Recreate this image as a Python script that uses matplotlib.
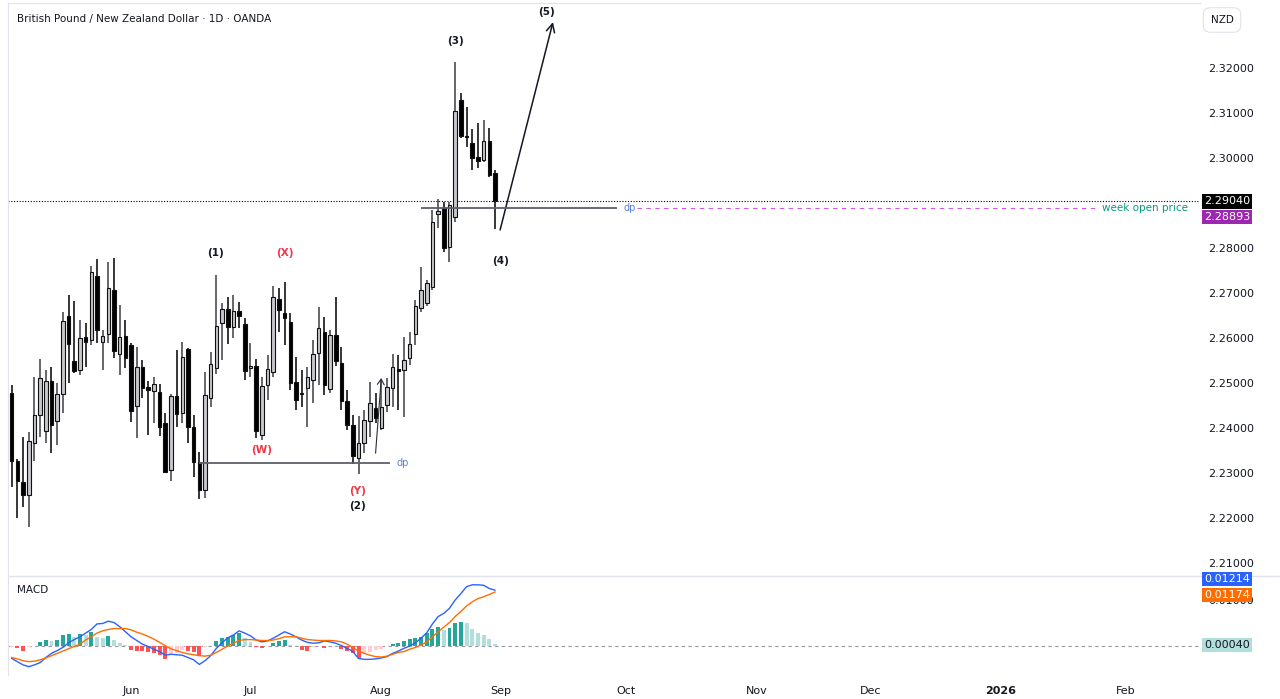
import matplotlib
matplotlib.use("Agg")
import matplotlib.pyplot as plt
from matplotlib.lines import Line2D
import numpy as np
import pandas as pd

# GBPNZD daily candles (OANDA), 2 May - 29 Aug 2025
opens = [2.24784, 2.23273, 2.22807, 2.22511, 2.23673, 2.24289, 2.23933, 2.25044, 2.24162, 2.24756,
         2.26489, 2.25496, 2.25289, 2.26016, 2.25956, 2.27378, 2.25918, 2.26089, 2.27067, 2.25644,
         2.26044, 2.25844, 2.24489, 2.25362, 2.24904, 2.24829, 2.24807, 2.24104, 2.23067, 2.24711,
         2.24327, 2.25749, 2.24016, 2.23251, 2.22622, 2.24660, 2.25327, 2.26340, 2.26638, 2.26238,
         2.26607, 2.26304, 2.25327, 2.25378, 2.23844, 2.24956, 2.25251, 2.26860, 2.26562, 2.26362,
         2.25029, 2.24784, 2.24882, 2.25067, 2.25673, 2.26127, 2.24860, 2.26060, 2.25451, 2.24607,
         2.24067, 2.23327, 2.23673, 2.24162, 2.24451, 2.23993, 2.24511, 2.24882, 2.25304, 2.25289,
         2.25549, 2.26089, 2.26667, 2.26778, 2.27133, 2.28756, 2.28882, 2.28029, 2.28696, 2.31289,
         2.30489, 2.30327, 2.30016, 2.29956, 2.30384, 2.29673]
highs = [2.24956, 2.23300, 2.23807, 2.23918, 2.25140, 2.25527, 2.25289, 2.25349, 2.24993, 2.26584,
         2.26956, 2.26829, 2.26400, 2.26340, 2.27607, 2.27749, 2.26178, 2.27696, 2.27778, 2.26733,
         2.26400, 2.25882, 2.25807, 2.25511, 2.25051, 2.25127, 2.24978, 2.24327, 2.24756, 2.25733,
         2.25918, 2.25771, 2.24289, 2.23473, 2.25251, 2.25696, 2.27400, 2.26771, 2.26918, 2.26956,
         2.26807, 2.26438, 2.25896, 2.25527, 2.25127, 2.25622, 2.27156, 2.27104, 2.27251, 2.26549,
         2.25584, 2.25289, 2.25362, 2.25956, 2.26696, 2.26473, 2.26178, 2.26918, 2.25793, 2.24844,
         2.24289, 2.24260, 2.24400, 2.25029, 2.24771, 2.25067, 2.25104, 2.25644, 2.25622, 2.26029,
         2.26140, 2.26844, 2.27584, 2.27289, 2.28844, 2.29082, 2.29029, 2.29029, 2.32140, 2.31438,
         2.31127, 2.30638, 2.30771, 2.30844, 2.30660, 2.29733]
lows = [2.22696, 2.21993, 2.22251, 2.21807, 2.23273, 2.23807, 2.23660, 2.23451, 2.23622, 2.24327,
        2.24993, 2.25216, 2.25178, 2.25362, 2.25844, 2.25896, 2.25289, 2.25882, 2.25549, 2.25178,
        2.25327, 2.24140, 2.23771, 2.24660, 2.23844, 2.24104, 2.23822, 2.22993, 2.22829, 2.24029,
        2.24104, 2.23673, 2.22918, 2.22416, 2.22438, 2.24473, 2.25200, 2.25511, 2.25867, 2.25993,
        2.26216, 2.25067, 2.25140, 2.23771, 2.23740, 2.24622, 2.25140, 2.26140, 2.25844, 2.24844,
        2.24400, 2.24473, 2.24029, 2.24549, 2.24956, 2.24733, 2.24771, 2.25378, 2.24400, 2.23956,
        2.23200, 2.22978, 2.23438, 2.23807, 2.24104, 2.23956, 2.24362, 2.24473, 2.24400, 2.24251,
        2.25400, 2.25844, 2.26578, 2.26711, 2.27067, 2.28438, 2.27918, 2.27696, 2.28584, 2.30438,
        2.30238, 2.29733, 2.29771, 2.29918, 2.29584, 2.28416]
closes = [2.23273, 2.22829, 2.22511, 2.23718, 2.24289, 2.25118, 2.25044, 2.24067, 2.24756, 2.26384,
          2.25867, 2.25267, 2.26007, 2.25918, 2.27473, 2.26178, 2.26044, 2.27104, 2.25718, 2.26029,
          2.25549, 2.24384, 2.25349, 2.24896, 2.24844, 2.24978, 2.24029, 2.23029, 2.24711, 2.24311,
          2.25584, 2.24016, 2.23251, 2.22622, 2.24733, 2.25416, 2.26267, 2.26638, 2.26251, 2.26607,
          2.26489, 2.25273, 2.25384, 2.23940, 2.24933, 2.25304, 2.26904, 2.26622, 2.26438, 2.25007,
          2.24622, 2.24756, 2.25127, 2.25644, 2.26216, 2.24956, 2.26067, 2.25496, 2.24607, 2.24067,
          2.23378, 2.23660, 2.24178, 2.24562, 2.24229, 2.24460, 2.24904, 2.25349, 2.25273, 2.25511,
          2.25867, 2.26711, 2.27067, 2.27222, 2.28584, 2.28829, 2.27993, 2.28956, 2.31044, 2.30489,
          2.30467, 2.29993, 2.29940, 2.30384, 2.29622, 2.29040]

# MACD (12, 26, 9)
macd = [-0.0027, -0.0034, -0.0041, -0.0045, -0.0041, -0.0036, -0.0025, -0.0016, -0.0010, -0.0003,
        0.0007, 0.0014, 0.0020, 0.0028, 0.0036, 0.0048, 0.0049, 0.0054, 0.0051, 0.0042,
        0.0031, 0.0020, 0.0012, 0.0004, -0.0001, -0.0007, -0.0012, -0.0020, -0.0018, -0.0019,
        -0.0020, -0.0025, -0.0030, -0.0040, -0.0032, -0.0021, -0.0005, 0.0007, 0.0018, 0.0024,
        0.0033, 0.0028, 0.0022, 0.0013, 0.0009, 0.0011, 0.0017, 0.0024, 0.0031, 0.0026,
        0.0020, 0.0013, 0.0008, 0.0006, 0.0007, 0.0011, 0.0009, 0.0006, 0.0001, -0.0005,
        -0.0012, -0.0027, -0.0029, -0.0029, -0.0028, -0.0026, -0.0023, -0.0016, -0.0011, -0.0005,
        0.0000, 0.0007, 0.0017, 0.0029, 0.0048, 0.0064, 0.0071, 0.0082, 0.0100, 0.0114,
        0.0129, 0.0133, 0.0133, 0.0132, 0.0125, 0.01214]
signal = [-0.0025, -0.0028, -0.0032, -0.0034, -0.0033, -0.0030, -0.0026, -0.0021, -0.0016, -0.0011,
          -0.0006, -0.0001, 0.0004, 0.0013, 0.0020, 0.0028, 0.0033, 0.0036, 0.0038, 0.0038,
          0.0038, 0.0035, 0.0030, 0.0026, 0.0021, 0.0015, 0.0008, 0.0001, -0.0006, -0.0010,
          -0.0014, -0.0017, -0.0019, -0.0021, -0.0022, -0.0020, -0.0014, -0.0007, 0.0000, 0.0006,
          0.0012, 0.0014, 0.0014, 0.0013, 0.0012, 0.0012, 0.0013, 0.0016, 0.0020, 0.0020,
          0.0020, 0.0017, 0.0014, 0.0013, 0.0012, 0.0012, 0.0012, 0.0011, 0.0009, 0.0004,
          -0.0003, -0.0011, -0.0016, -0.0020, -0.0023, -0.0024, -0.0022, -0.0018, -0.0014, -0.0012,
          -0.0007, -0.0003, 0.0002, 0.0009, 0.0020, 0.0031, 0.0041, 0.0051, 0.0064, 0.0075,
          0.0087, 0.0096, 0.0103, 0.0107, 0.0112, 0.01174]
hist = [-0.0002, -0.0005, -0.0011, -0.0002, -0.0001, 0.0009, 0.0014, 0.0011, 0.0014, 0.0024,
        0.0026, 0.0020, 0.0026, 0.0024, 0.0030, 0.0020, 0.0018, 0.0022, 0.0012, 0.0007,
        0.0002, -0.0009, -0.0010, -0.0011, -0.0012, -0.0015, -0.0020, -0.0029, -0.0019, -0.0016,
        -0.0008, -0.0011, -0.0012, -0.0021, -0.0003, 0.0001, 0.0011, 0.0017, 0.0020, 0.0023,
        0.0029, 0.0017, 0.0009, -0.0003, -0.0004, -0.0001, 0.0006, 0.0011, 0.0012, 0.0003,
        -0.0001, -0.0009, -0.0010, -0.0002, -0.0001, -0.0004, -0.0001, 0.0001, -0.0006, -0.0011,
        -0.0016, -0.0025, -0.0016, -0.0012, -0.0009, -0.0006, -0.0001, 0.0004, 0.0006, 0.0011,
        0.0015, 0.0017, 0.0020, 0.0028, 0.0036, 0.0042, 0.0035, 0.0040, 0.0049, 0.0052,
        0.0049, 0.0038, 0.0028, 0.0023, 0.0016, 0.0004]

# 2.29000 sits under the last-price tag, so it is not listed
price_ticks = [2.21, 2.22, 2.23, 2.24, 2.25, 2.26, 2.27, 2.28, 2.30, 2.31, 2.32]
last_price = 2.29040
week_open = 2.28893
dp_high = 2.2889
dp_low = 2.23222

W, H = 1280, 699
TXT = "#131722"


def px_rect(x0, y0, x1, y1):
    return [x0 / W, 1 - y1 / H, (x1 - x0) / W, (y1 - y0) / H]


fig = plt.figure(figsize=(W / 100, H / 100), dpi=100)
fig.patch.set_facecolor("white")
ax = fig.add_axes(px_rect(8, 3, 1200, 575))
ax2 = fig.add_axes(px_rect(8, 577, 1200, 675))

x = np.arange(len(opens))
o, hi, lo, c = (np.array(v) for v in (opens, highs, lows, closes))
up = c >= o

# candles
ax.vlines(x, lo, hi, colors=["#3a3d45" if u else "#000000" for u in up], lw=1.1, zorder=2)
body_bottom = np.minimum(o, c)
body_height = np.maximum(np.abs(c - o), 0.00012)
ax.bar(x, body_height, 0.62, bottom=body_bottom,
       color=["#c6c8cc" if u else "#000000" for u in up],
       edgecolor="#111111", linewidth=0.8, zorder=3)

ax.set_xlim(-0.65, 209)
ax.set_ylim(2.20733, 2.33444)
ax.yaxis.tick_right()
ax.set_yticks(price_ticks)
ax.set_yticklabels([f"{t:.5f}" for t in price_ticks])
ax.tick_params(axis="y", length=0, pad=6, labelsize=8, labelcolor=TXT)
ax.tick_params(axis="x", bottom=False, labelbottom=False)
for s in ("right", "bottom"):
    ax.spines[s].set_visible(False)
for s in ("left", "top"):
    ax.spines[s].set_color("#e0e3eb")

# horizontal levels
ax.axhline(last_price, color="#000000", lw=0.8, ls=(0, (1, 1.5)), zorder=1)
ax.hlines(dp_high, 72, 106.5, color="#5d606b", lw=1.3, zorder=4)
ax.text(107.6, dp_high, "dp", color="#5b7fdb", fontsize=7, va="center")
ax.hlines(week_open, 110, 190.5, color="#d05ce3", lw=0.8, ls=(0, (4, 4)), zorder=1)
ax.text(206.9, week_open, "week open price", color="#089981", fontsize=7.5, va="center", ha="right")
ax.hlines(dp_low, 33, 66.5, color="#5d606b", lw=1.3, zorder=4)
ax.text(67.6, dp_low, "dp", color="#5b7fdb", fontsize=7, va="center")

# elliott wave labels
waves = [("(1)", 35.9, 2.27889, TXT), ("(X)", 48.1, 2.27889, "#f23645"),
         ("(W)", 44.0, 2.23511, "#f23645"), ("(Y)", 60.9, 2.2260, "#f23645"),
         ("(2)", 60.9, 2.22267, TXT), ("(3)", 78.0, 2.3260, TXT),
         ("(4)", 85.9, 2.27711, TXT), ("(5)", 94.0, 2.33244, TXT)]
for lab, wx, wy, col in waves:
    ax.text(wx, wy, lab, color=col, fontsize=7.5, fontweight="bold", ha="center", va="center")

ax.annotate("", xy=(95.2, 2.3302), xytext=(85.9, 2.2840),
            arrowprops=dict(arrowstyle="->,head_length=0.6,head_width=0.3", color=TXT,
                            lw=1.1, shrinkA=0, shrinkB=0))
ax.annotate("", xy=(65.0, 2.2511), xytext=(64.0, 2.2344),
            arrowprops=dict(arrowstyle="->,head_length=0.4,head_width=0.25", color="#2a2e39",
                            lw=0.8, shrinkA=0, shrinkB=0))

# MACD pane
hcol = []
for i, v in enumerate(hist):
    prev = hist[i - 1] if i else v
    if v >= 0:
        hcol.append("#26a69a" if v >= prev else "#b2dfdb")
    else:
        hcol.append("#ff5252" if v < prev else "#ffcdd2")
ax2.bar(x, hist, 0.7, color=hcol, zorder=2)
ax2.plot(x, macd, color="#2962ff", lw=1, zorder=3)
ax2.plot(x, signal, color="#ff6d00", lw=1, zorder=3)
ax2.axhline(0, color="#9598a1", lw=0.8, ls=(0, (3, 3)), zorder=1)
ax2.set_xlim(-0.65, 209)
ax2.set_ylim(-0.0063, 0.0150)
ax2.yaxis.tick_right()
ax2.set_yticks([0.01])
ax2.set_yticklabels(["0.01000"])
ax2.tick_params(axis="y", length=0, pad=6, labelsize=8, labelcolor=TXT)
for s in ("right", "bottom", "top"):
    ax2.spines[s].set_visible(False)
ax2.spines["left"].set_color("#e0e3eb")

# month ticks from the trading calendar
dates = pd.bdate_range("2025-05-02", periods=215)
mpos, mlab = [], []
for i, d in enumerate(dates):
    if i > 0 and d.month != dates[i - 1].month:
        mpos.append(i)
        mlab.append(str(d.year) if d.month == 1 else d.strftime("%b"))
ax2.set_xticks(mpos)
ax2.set_xticklabels(mlab)
ax2.tick_params(axis="x", length=0, pad=8, labelsize=8, labelcolor=TXT)
for t in ax2.get_xticklabels():
    if t.get_text().isdigit():
        t.set_fontweight("bold")

# texts and price tags
fig.text(17 / W, 1 - 19 / H, "British Pound / New Zealand Dollar · 1D · OANDA",
         fontsize=7.5, color=TXT, va="center")
fig.text(17 / W, 1 - 590 / H, "MACD", fontsize=7.5, color=TXT, va="center")
fig.text(1222 / W, 1 - 20 / H, "NZD", fontsize=7.5, color=TXT, ha="center", va="center",
         bbox=dict(boxstyle="round,pad=0.7", fc="white", ec="#e0e3eb", lw=0.8))


def tag(y_px, text, face, fg="white"):
    fig.text(1204 / W, 1 - y_px / H, text, fontsize=8, color=fg, va="center", ha="left",
             bbox=dict(boxstyle="square,pad=0.2", fc=face, ec="none"))


tag(201.5, f"{last_price:.5f}", "#000000")
tag(217, f"{week_open:.5f}", "#9c27b0")
tag(579, f"{macd[-1]:.5f}", "#2962ff")
tag(595, f"{signal[-1]:.5f}", "#ff6d00")
tag(645, f"{hist[-1]:.5f}", "#b2dfdb", TXT)

fig.add_artist(Line2D([8 / W, 1], [1 - 576 / H] * 2, color="#e0e3eb", lw=1))

fig.savefig("out.png", dpi=100)
